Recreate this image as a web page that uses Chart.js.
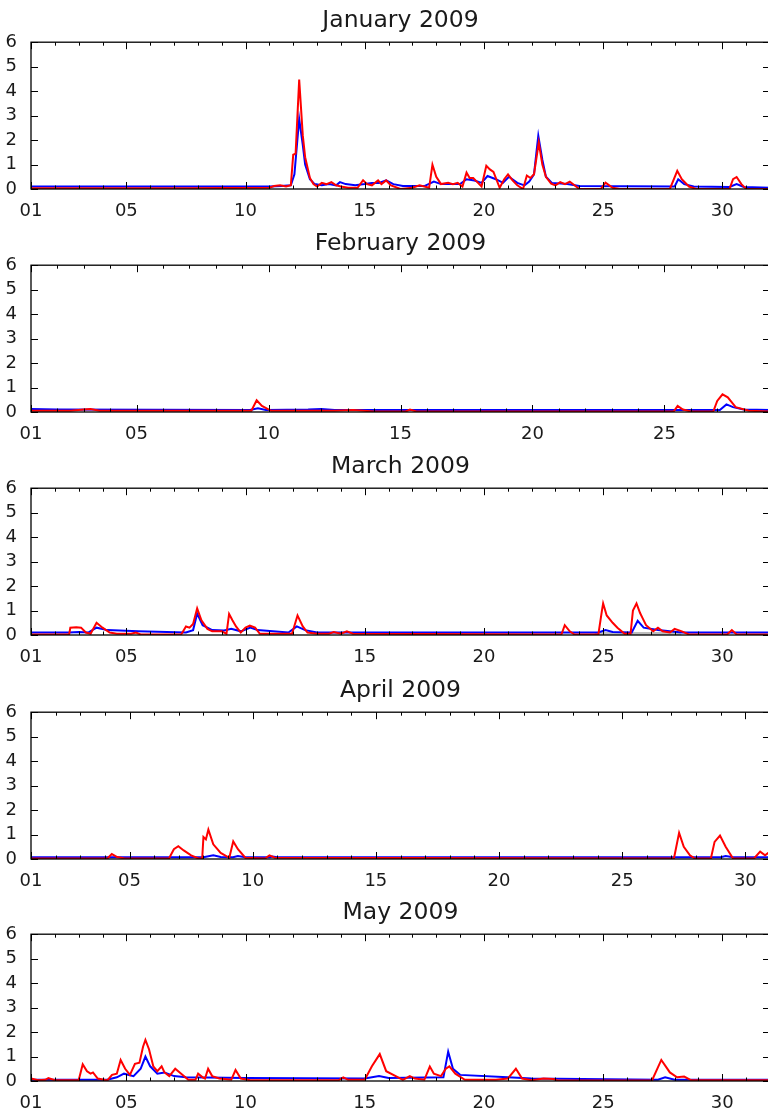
<!DOCTYPE html>
<html>
<head>
<meta charset="utf-8">
<script src="https://cdn.jsdelivr.net/npm/chart.js@4.4.1/dist/chart.umd.min.js"></script>
<style>
  html, body { margin: 0; padding: 0; background: #fff; overflow: hidden; width: 768px; height: 1111px; }
  canvas { position: absolute; left: 0; }
</style>
</head>
<body>
<canvas id="c0" width="801" height="222" style="top:0px"></canvas>
<canvas id="c1" width="801" height="222" style="top:223px"></canvas>
<canvas id="c2" width="801" height="222" style="top:446px"></canvas>
<canvas id="c3" width="801" height="222" style="top:670px"></canvas>
<canvas id="c4" width="801" height="222" style="top:892px"></canvas>
<script>
// month titles and lengths
const titles = ['January 2009', 'February 2009', 'March 2009', 'April 2009', 'May 2009'];
const monthDays = [31, 28, 31, 30, 31];
const xTickDays = [1, 5, 10, 15, 20, 25, 30];
const yTicks = [0, 1, 2, 3, 4, 5, 6];

// [day, value] pairs
const janRed = [[1,0.03],[7.5,0.03],[11.0,0.05],[11.2,0.12],[11.45,0.15],[11.7,0.1],[11.9,0.15],[12.0,1.4],[12.1,1.45],[12.25,4.47],[12.4,2.2],[12.5,1.3],[12.7,0.45],[12.85,0.2],[13.0,0.1],[13.2,0.25],[13.4,0.2],[13.6,0.28],[13.8,0.15],[14.0,0.1],[14.3,0.05],[14.7,0.05],[14.93,0.36],[15.1,0.2],[15.3,0.15],[15.56,0.35],[15.7,0.2],[15.9,0.35],[16.1,0.15],[16.5,0.0],[17.0,0.05],[17.3,0.15],[17.7,0.05],[17.84,0.99],[18.0,0.5],[18.2,0.2],[18.5,0.25],[18.7,0.2],[18.9,0.25],[19.1,0.1],[19.27,0.67],[19.4,0.45],[19.55,0.45],[19.7,0.3],[19.9,0.1],[20.1,0.95],[20.25,0.8],[20.4,0.7],[20.66,0.05],[20.85,0.4],[21.01,0.6],[21.2,0.35],[21.4,0.15],[21.64,0.0],[21.8,0.55],[21.95,0.45],[22.1,0.6],[22.3,1.9],[22.45,1.0],[22.6,0.5],[22.82,0.22],[23.0,0.15],[23.2,0.28],[23.4,0.2],[23.6,0.3],[23.8,0.15],[24.0,0.0],[24.9,0.0],[25.1,0.26],[25.4,0.05],[25.7,0.0],[27.8,0.0],[28.11,0.74],[28.3,0.4],[28.6,0.1],[28.9,0.0],[30.3,0.0],[30.45,0.4],[30.6,0.49],[30.8,0.2],[31.0,0.0],[32,0.0]];
const janBlue = [[1,0.1],[11.0,0.1],[11.5,0.12],[11.9,0.15],[12.05,0.6],[12.25,2.86],[12.4,1.8],[12.5,1.0],[12.7,0.4],[12.9,0.2],[13.2,0.15],[13.5,0.2],[13.8,0.15],[13.96,0.28],[14.2,0.2],[14.6,0.15],[15.0,0.2],[15.3,0.25],[15.6,0.25],[15.9,0.35],[16.2,0.2],[16.6,0.12],[17.5,0.12],[17.9,0.3],[18.2,0.2],[18.6,0.2],[19.0,0.2],[19.27,0.4],[19.6,0.35],[19.9,0.25],[20.15,0.53],[20.5,0.4],[20.8,0.25],[21.05,0.5],[21.4,0.25],[21.7,0.15],[21.9,0.3],[22.1,0.6],[22.28,2.18],[22.45,1.2],[22.6,0.5],[22.85,0.25],[23.5,0.2],[24.0,0.12],[28.0,0.1],[28.15,0.4],[28.4,0.2],[28.8,0.1],[30.3,0.08],[30.6,0.2],[30.9,0.08],[32,0.05]];
const janGray = [];

const febRed = [[1,0.05],[2.5,0.05],[3.0,0.1],[3.25,0.12],[3.6,0.05],[9.35,0.05],[9.55,0.48],[9.75,0.25],[10.1,0.05],[11.3,0.05],[12.5,0.05],[13.2,0.08],[14.0,0.02],[15.2,0.02],[15.36,0.1],[15.6,0.02],[25.35,0.02],[25.5,0.25],[25.7,0.1],[26.0,0.02],[26.85,0.02],[27.0,0.45],[27.2,0.72],[27.4,0.6],[27.7,0.2],[28.2,0.05],[29,0.02]];
const febBlue = [[1,0.12],[2,0.1],[9.3,0.08],[9.6,0.15],[9.9,0.08],[11.5,0.1],[12.0,0.12],[12.5,0.08],[27.1,0.08],[27.35,0.31],[27.6,0.2],[28.0,0.1],[29,0.08]];
const febGray = [];

const marRed = [[1,0.02],[2.6,0.02],[2.65,0.3],[2.9,0.32],[3.1,0.3],[3.3,0.1],[3.5,0.05],[3.75,0.5],[4.0,0.3],[4.3,0.1],[4.6,0.05],[5.2,0.05],[5.4,0.1],[5.6,0.02],[7.3,0.02],[7.5,0.35],[7.65,0.3],[7.8,0.45],[7.97,1.09],[8.15,0.6],[8.4,0.25],[8.6,0.15],[9.0,0.15],[9.2,0.05],[9.31,0.86],[9.45,0.6],[9.6,0.35],[9.8,0.1],[10.0,0.3],[10.18,0.38],[10.4,0.3],[10.6,0.05],[11.95,0.05],[12.18,0.8],[12.4,0.35],[12.6,0.1],[13.0,0.05],[13.5,0.05],[13.7,0.12],[14.0,0.05],[14.25,0.15],[14.5,0.05],[23.25,0.02],[23.39,0.4],[23.6,0.15],[23.8,0.02],[24.8,0.02],[24.95,1.0],[25.0,1.29],[25.15,0.8],[25.4,0.5],[25.6,0.3],[25.9,0.05],[26.15,0.05],[26.25,1.0],[26.4,1.29],[26.55,0.9],[26.65,0.7],[26.8,0.4],[27.1,0.15],[27.3,0.3],[27.5,0.15],[27.8,0.1],[28.0,0.25],[28.3,0.15],[28.6,0.02],[30.2,0.02],[30.4,0.2],[30.6,0.02],[32,0.02]];
const marBlue = [[1,0.1],[2.6,0.1],[3.0,0.12],[3.4,0.1],[3.75,0.3],[4.2,0.2],[5.5,0.15],[7.5,0.1],[7.8,0.2],[7.97,0.88],[8.2,0.4],[8.6,0.2],[9.1,0.18],[9.4,0.25],[9.8,0.15],[10.2,0.3],[10.5,0.2],[11.8,0.1],[12.15,0.35],[12.5,0.2],[13.0,0.1],[24.8,0.1],[25.1,0.2],[25.4,0.12],[26.2,0.1],[26.45,0.58],[26.7,0.3],[27.3,0.2],[28.3,0.1],[32,0.1]];
const marGray = [[24.6,0],[24.7,0.12],[28.2,0.12],[28.3,0]];

const aprRed = [[1,0.02],[4.1,0.02],[4.28,0.2],[4.5,0.08],[4.8,0.02],[6.6,0.02],[6.8,0.4],[6.98,0.52],[7.2,0.35],[7.5,0.15],[7.8,0.02],[7.95,0.02],[8.0,0.9],[8.1,0.8],[8.2,1.2],[8.4,0.6],[8.7,0.25],[9.05,0.05],[9.21,0.72],[9.4,0.4],[9.7,0.05],[10.5,0.02],[10.68,0.15],[10.9,0.05],[27.1,0.02],[27.31,1.07],[27.5,0.5],[27.75,0.15],[27.95,0.02],[28.6,0.02],[28.75,0.7],[28.97,0.96],[29.2,0.5],[29.5,0.02],[30.35,0.02],[30.6,0.3],[30.8,0.15],[31,0.3]];
const aprBlue = [[1,0.07],[8.0,0.07],[8.4,0.15],[8.7,0.08],[9.2,0.07],[9.4,0.12],[9.7,0.07],[10.7,0.07],[10.8,0.1],[11,0.07],[29.0,0.07],[29.2,0.12],[29.5,0.07],[31,0.07]];
const aprGray = [];

const mayRed = [[1,0.1],[1.3,0.03],[1.6,0.05],[1.73,0.12],[2.0,0.03],[3.0,0.03],[3.17,0.68],[3.35,0.4],[3.5,0.3],[3.6,0.35],[3.8,0.1],[4.2,0.02],[4.4,0.25],[4.6,0.3],[4.76,0.86],[4.95,0.5],[5.15,0.25],[5.36,0.7],[5.55,0.75],[5.7,1.4],[5.8,1.68],[5.95,1.3],[6.13,0.6],[6.3,0.4],[6.48,0.6],[6.6,0.35],[6.8,0.2],[7.05,0.5],[7.3,0.3],[7.6,0.05],[7.9,0.05],[8.01,0.3],[8.2,0.15],[8.3,0.1],[8.43,0.5],[8.6,0.2],[8.9,0.1],[9.4,0.05],[9.58,0.45],[9.8,0.1],[10.2,0.03],[13.9,0.03],[14.1,0.15],[14.3,0.05],[15.0,0.05],[15.3,0.6],[15.63,1.1],[15.9,0.4],[16.3,0.2],[16.6,0.05],[16.89,0.2],[17.1,0.1],[17.5,0.05],[17.73,0.59],[17.9,0.3],[18.2,0.2],[18.4,0.5],[18.55,0.6],[18.8,0.3],[19.2,0.05],[20.5,0.05],[21.0,0.1],[21.34,0.5],[21.6,0.1],[22.0,0.03],[22.5,0.1],[22.9,0.08],[23.1,0.02],[27.05,0.02],[27.44,0.86],[27.8,0.35],[28.1,0.15],[28.4,0.18],[28.7,0.03],[32,0.03]];
const mayBlue = [[1,0.05],[4.2,0.05],[4.6,0.15],[4.9,0.3],[5.3,0.2],[5.6,0.5],[5.8,1.0],[6.0,0.6],[6.3,0.3],[6.6,0.35],[7.0,0.2],[7.5,0.15],[10,0.12],[15.0,0.1],[15.6,0.2],[16.0,0.12],[18.3,0.15],[18.5,1.2],[18.7,0.5],[19.0,0.25],[21.0,0.15],[22.0,0.1],[27.3,0.05],[27.6,0.15],[28.0,0.05],[32,0.05]];
const mayGray = [];

const redSeries = [janRed, febRed, marRed, aprRed, mayRed];
const blueSeries = [janBlue, febBlue, marBlue, aprBlue, mayBlue];
const graySeries = [janGray, febGray, marGray, aprGray, mayGray];

Chart.defaults.font.family = "'DejaVu Sans', sans-serif";
Chart.defaults.color = '#1a1a1a';

const toXY = pairs => pairs.map(p => ({ x: p[0], y: p[1] }));

// matplotlib-like frame: spines and inward ticks on all four sides
const axesFrame = {
    id: 'axesFrame',
    afterDatasetsDraw(chart) {
        const { ctx, chartArea: a, scales: { x, y } } = chart;
        ctx.save();
        ctx.strokeStyle = '#000';
        ctx.lineWidth = 1;
        ctx.beginPath();
        for (let d = Math.ceil(x.min); d <= x.max; d++) {
            const px = Math.round(x.getPixelForValue(d)) + 0.5;
            const len = xTickDays.includes(d) ? 7 : 3.5;
            ctx.moveTo(px, a.bottom); ctx.lineTo(px, a.bottom - len);
            ctx.moveTo(px, a.top); ctx.lineTo(px, a.top + len);
        }
        yTicks.forEach(v => {
            const py = Math.round(y.getPixelForValue(v)) + 0.5;
            ctx.moveTo(a.left, py); ctx.lineTo(a.left + 7, py);
            ctx.moveTo(a.right, py); ctx.lineTo(a.right - 7, py);
        });
        ctx.stroke();
        ctx.lineWidth = 1.3;
        ctx.strokeRect(a.left, a.top, a.right - a.left, a.bottom - a.top);
        ctx.restore();
    }
};

function makeChart(i) {
    const ctx = document.getElementById('c' + i).getContext('2d');
    const xMax = monthDays[i] + 1;
    return new Chart(ctx, {
        type: 'line',
        data: {
            datasets: [
                { data: toXY(redSeries[i]), borderColor: '#ff0000', borderWidth: 2, pointRadius: 0, tension: 0 },
                { data: toXY(blueSeries[i]), borderColor: '#0000ff', borderWidth: 2, pointRadius: 0, tension: 0 },
                { data: toXY(graySeries[i]), borderColor: 'rgba(0,0,0,0)', borderWidth: 0, backgroundColor: '#bdbdbd', fill: 'origin', pointRadius: 0 }
            ]
        },
        options: {
            responsive: false,
            animation: false,
            devicePixelRatio: 1,
            layout: { padding: 0 },
            plugins: {
                legend: { display: false },
                tooltip: { enabled: false },
                title: {
                    display: true,
                    text: titles[i],
                    color: '#1a1a1a',
                    font: { size: 23.5, weight: 'normal' },
                    padding: { top: 7, bottom: 7 }
                }
            },
            scales: {
                x: {
                    type: 'linear',
                    min: 1,
                    max: xMax,
                    grid: { display: false },
                    border: { display: false },
                    afterBuildTicks: s => { s.ticks = xTickDays.filter(v => v <= xMax).map(v => ({ value: v })); },
                    afterFit: s => { s.height = 33; },
                    ticks: {
                        autoSkip: false,
                        maxRotation: 0,
                        padding: 4,
                        font: { size: 18 },
                        callback: v => String(v).padStart(2, '0')
                    }
                },
                y: {
                    position: 'left',
                    min: 0,
                    max: 6,
                    grid: { display: false },
                    border: { display: false },
                    afterBuildTicks: s => { s.ticks = yTicks.map(v => ({ value: v })); },
                    afterFit: s => { s.width = 31; },
                    ticks: { autoSkip: false, padding: 6, font: { size: 18 } }
                },
                y2: {
                    position: 'right',
                    min: 0,
                    max: 6,
                    grid: { display: false },
                    border: { display: false },
                    afterFit: s => { s.width = 31; },
                    ticks: { display: false }
                }
            }
        },
        plugins: [axesFrame]
    });
}

for (let i = 0; i < titles.length; i++) makeChart(i);
</script>
</body>
</html>
